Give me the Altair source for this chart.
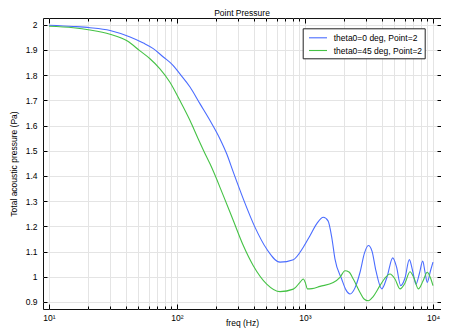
import altair as alt
import pandas as pd

# ---- data ----
series_names = ["theta0=0 deg, Point=2", "theta0=45 deg, Point=2"]
series_colors = ["#4a6cff", "#45c245"]

blue_freq = [10, 15.4, 20.9, 30, 43.0, 54.6, 65.3, 78.2, 93.5, 105.4, 126.4, 151.4,
             181.1, 216.8, 244.5, 275.4, 329.6, 406.4, 502.3, 638.3, 811, 970, 1094,
             1241, 1390, 1514, 1626, 1714, 1935, 2090, 2248, 2459, 2692, 2918, 3126,
             3338, 3586, 3975, 4374, 4844, 5188, 5594, 6043, 6533, 6937, 7362, 7849,
             8316, 8660, 9021, 9550, 10000]
blue_val = [1.998, 1.993, 1.988, 1.977, 1.951, 1.927, 1.905, 1.872, 1.838, 1.805, 1.753, 1.686,
            1.62, 1.547, 1.488, 1.415, 1.309, 1.197, 1.11, 1.058, 1.068, 1.117, 1.163,
            1.212, 1.236, 1.222, 1.15, 1.071, 0.991, 0.948, 0.932, 0.956, 1.018, 1.095, 1.124,
            1.102, 1.023, 0.952, 0.999, 1.075, 1.039, 0.965, 0.995, 1.068, 1.023, 0.971, 1.015,
            1.062, 1.019, 0.978, 1.023, 1.058]

green_freq = [10, 15.5, 20.9, 30, 41.0, 51.4, 61.5, 73.6, 88.1, 105.4, 126.4, 146.6,
              170.6, 181.1, 230.2, 275.4, 329.6, 394.6, 502.3, 638.3, 811, 914, 970, 1009,
              1042, 1135, 1310, 1663, 1876, 2054, 2207, 2384, 2692, 2893, 3126, 3338,
              3855, 4217, 4616, 5048, 5521, 6043, 6607, 7105, 7680, 8353, 9021, 9550, 10000]
green_val = [1.994, 1.988, 1.979, 1.962, 1.935, 1.896, 1.865, 1.825, 1.772, 1.699, 1.62, 1.547,
             1.475, 1.448, 1.322, 1.223, 1.124, 1.044, 0.971, 0.941, 0.951, 0.978, 0.991, 0.975,
             0.952, 0.953, 0.962, 0.977, 0.998, 1.024, 1.019, 0.991, 0.938, 0.912, 0.905, 0.916,
             0.965, 0.995, 1.011, 0.991, 0.952, 0.975, 1.020, 0.995, 0.952, 0.983, 1.018, 0.996, 0.965]

x_tick_values = [10, 20, 30, 40, 50, 60, 70, 80, 90,
                 100, 200, 300, 400, 500, 600, 700, 800, 900,
                 1000, 2000, 3000, 4000, 5000, 6000, 7000, 8000, 9000, 10000]
y_tick_values = [0.9, 1.0, 1.1, 1.2, 1.3, 1.4, 1.5, 1.6, 1.7, 1.8, 1.9, 2.0]

df = pd.concat([
    pd.DataFrame({"freq": blue_freq, "value": blue_val, "series": series_names[0]}),
    pd.DataFrame({"freq": green_freq, "value": green_val, "series": series_names[1]}),
], ignore_index=True)

W, H = 398, 291
FONT = "Liberation Sans"
FS = 8.5

xscale = alt.Scale(type="log", domain=[8.98, 11550], nice=False)
yscale = alt.Scale(domain=[0.8722, 2.0266], nice=False, zero=False)

major_test = "datum.value == 10 || datum.value == 100 || datum.value == 1000 || datum.value == 10000"
x_label_expr = ("datum.value == 10 ? '10\u00b9' : datum.value == 100 ? '10\u00b2' : "
                "datum.value == 1000 ? '10\u00b3' : datum.value == 10000 ? '10\u2074' : ''")
NB = "\u00a0\u00a0\u00a0\u00a0"

lines = alt.Chart(df).mark_line(strokeWidth=1.1, interpolate="monotone").encode(
    x=alt.X("freq:Q", scale=xscale,
            axis=alt.Axis(values=x_tick_values, labelExpr=x_label_expr, title="freq (Hz)",
                          ticks=False, tickSize=0, domain=False, grid=True, gridColor="#e4e4e4",
                          labelPadding=4, titleY=16, titleBaseline="alphabetic",
                          labelFlush=False, labelOverlap=False)),
    y=alt.Y("value:Q", scale=yscale,
            axis=alt.Axis(values=y_tick_values, labelExpr="format(datum.value, '~g')",
                          title="Total acoustic pressure (Pa)", ticks=False, tickSize=0,
                          domain=False, grid=True, gridColor="#e4e4e4",
                          labelPadding=6, titlePadding=7, labelOverlap=False)),
    color=alt.Color("series:N", scale=alt.Scale(domain=series_names, range=series_colors),
                    legend=alt.Legend(title=None, orient="none", legendX=259.7, legendY=10.3,
                                      symbolType="M-1.5,0H1.5", symbolSize=144,
                                      symbolStrokeWidth=1.1, padding=2.5, symbolOffset=5.8,
                                      labelOffset=8.7, rowPadding=0.7, labelFont=FONT,
                                      labelFontSize=FS, labelColor="black", labelLimit=0,
                                      labelExpr="datum.label + '" + NB + "'",
                                      strokeColor="#222222", fillColor="white")),
)

x_tick = {"condition": {"test": major_test, "value": 5}, "value": 3}

# inward ticks on bottom (x) and left (y)
ticks_a = alt.Chart(df).mark_point(opacity=0).encode(
    x=alt.X("freq:Q", scale=xscale,
            axis=alt.Axis(orient="top", offset=-H, values=x_tick_values, labels=False,
                          domain=False, grid=False, title="", tickSize=x_tick,
                          tickColor="black", tickWidth=1)),
    y=alt.Y("value:Q", scale=yscale,
            axis=alt.Axis(orient="right", offset=-W, values=y_tick_values, labels=False,
                          domain=False, grid=False, title="", tickSize=4,
                          tickColor="black", tickWidth=1)),
)

# inward ticks on top (x) and right (y)
ticks_b = alt.Chart(df).mark_point(opacity=0).encode(
    x=alt.X("freq:Q", scale=xscale,
            axis=alt.Axis(orient="bottom", offset=-H, values=x_tick_values, labels=False,
                          domain=False, grid=False, title="", tickSize=x_tick,
                          tickColor="black", tickWidth=1)),
    y=alt.Y("value:Q", scale=yscale,
            axis=alt.Axis(orient="left", offset=-W, values=y_tick_values, labels=False,
                          domain=False, grid=False, title="", tickSize=4,
                          tickColor="black", tickWidth=1)),
)

chart = alt.layer(lines, ticks_a, ticks_b).resolve_axis(
    x="independent", y="independent"
).properties(
    width=W, height=H,
    title=alt.TitleParams("Point Pressure", font=FONT, fontSize=FS, fontWeight="normal",
                          offset=0, anchor="middle", color="black"),
    autosize=alt.AutoSizeParams(type="none"),
    padding={"left": 35, "top": 10, "right": 0, "bottom": 19},
).configure_view(
    stroke="#111111", strokeWidth=1
).configure_axis(
    labelFont=FONT, titleFont=FONT, labelFontSize=FS, titleFontSize=FS,
    titleFontWeight="normal", labelColor="black", titleColor="black"
)

chart.save("out.html", embed_options={"renderer": "svg", "actions": False})
